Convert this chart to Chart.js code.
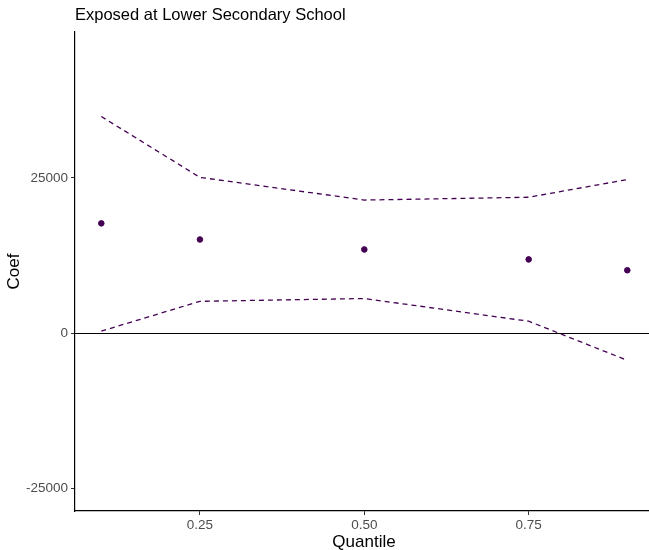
<!DOCTYPE html>
<html><head><meta charset="utf-8">
<script src="https://cdn.jsdelivr.net/npm/chart.js@4"></script>
<style>html,body{margin:0;padding:0;background:#fff;overflow:hidden}#wrap{width:649px;height:550px;position:relative}</style>
</head><body><div id="wrap"><canvas id="c" width="649" height="550"></canvas></div>
<script>
const quantiles = [0.1, 0.25, 0.5, 0.75, 0.9];
const coef = [17700, 15100, 13500, 11900, 10150];
const upper = [34900, 25100, 21450, 21900, 24750];
const lower = [350, 5150, 5600, 1950, -4350];
const xTicks = [0.25, 0.5, 0.75];
const yTicks = [-25000, 0, 25000];
const titleText = "Exposed at Lower Secondary School";
const col = "#440154";

const FONT = "'Liberation Sans', Arial, sans-serif";
const toXY = arr => quantiles.map((q, i) => ({x: q, y: arr[i]}));

const extras = {
  id: 'extras',
  beforeDatasetsDraw(chart) {
    const {ctx, chartArea: a, scales: {y}} = chart;
    const py = Math.round(y.getPixelForValue(0)) + 0.5;
    ctx.save();
    ctx.strokeStyle = '#000'; ctx.lineWidth = 1.2;
    ctx.beginPath(); ctx.moveTo(a.left, py); ctx.lineTo(a.right, py); ctx.stroke();
    ctx.restore();
  },
  afterDraw(chart) {
    const {ctx, chartArea: a} = chart;
    ctx.save();
    ctx.fillStyle = '#000';
    ctx.font = "16.5px " + FONT;
    ctx.textBaseline = 'middle'; ctx.textAlign = 'left';
    ctx.fillText(titleText, 75, 15);
    ctx.font = "17px " + FONT;
    ctx.textAlign = 'center';
    ctx.fillText('Quantile', 364, 542);
    ctx.translate(14, (a.top + a.bottom) / 2);
    ctx.rotate(-Math.PI / 2);
    ctx.fillText('Coef', 0, 0);
    ctx.restore();
  }
};

new Chart(document.getElementById('c'), {
  type: 'scatter',
  data: {
    datasets: [
      {data: toXY(coef), backgroundColor: col, borderColor: col, pointRadius: 2.8, showLine: false},
      {data: toXY(upper), borderColor: col, borderWidth: 1.3, borderDash: [5, 4], pointRadius: 0, showLine: true, fill: false},
      {data: toXY(lower), borderColor: col, borderWidth: 1.3, borderDash: [5, 4], pointRadius: 0, showLine: true, fill: false}
    ]
  },
  options: {
    responsive: false, animation: false,
    layout: {autoPadding: false, padding: {left: 0, right: 0, top: 32, bottom: 0}},
    plugins: {legend: {display: false}, tooltip: {enabled: false}},
    scales: {
      x: {
        type: 'linear', min: 0.06, max: 0.933,
        afterBuildTicks: s => { s.ticks = xTicks.map(v => ({value: v})); },
        afterFit: s => { s.height = 39; },
        border: {display: true, color: '#000', width: 1.2},
        grid: {display: true, drawOnChartArea: false, drawTicks: true, tickLength: 4, color: '#333'},
        ticks: {color: '#4d4d4d', font: {family: FONT, size: 13.5}, padding: 2, maxRotation: 0,
                callback: v => v.toFixed(2)}
      },
      y: {
        type: 'linear', min: -28600, max: 48500,
        afterBuildTicks: s => { s.ticks = yTicks.map(v => ({value: v})); },
        afterFit: s => { s.width = 75; },
        border: {display: true, color: '#000', width: 1.2},
        grid: {display: true, drawOnChartArea: false, drawTicks: true, tickLength: 4, color: '#333'},
        ticks: {color: '#4d4d4d', font: {family: FONT, size: 13.5}, padding: 3,
                callback: v => String(v)}
      }
    }
  },
  plugins: [extras]
});
</script></body></html>
